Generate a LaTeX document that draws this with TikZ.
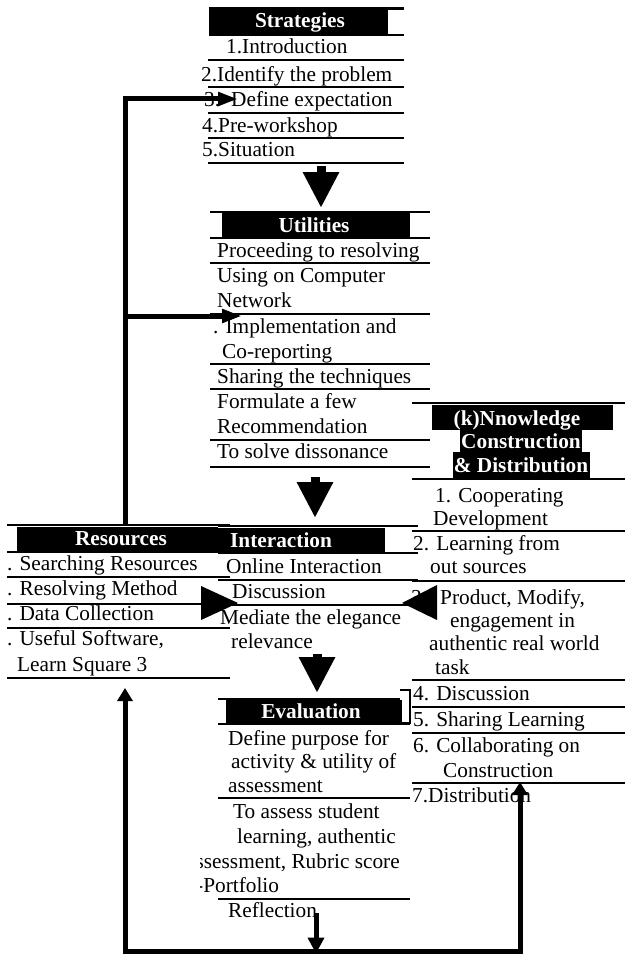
\documentclass[tikz,border=0pt]{standalone}
\usepackage{fontspec}
\setmainfont{Liberation Serif}
\usetikzlibrary{arrows.meta}
\begin{document}
\begin{tikzpicture}[x=1pt,y=-1pt,
  txt/.style={anchor=base west, inner sep=0pt, font=\fontsize{21.3}{24}\selectfont},
  hd/.style={anchor=base, inner sep=0pt, text=white, font=\fontsize{21.3}{24}\selectfont\bfseries},
  rule/.style={line width=2.2pt},
  link/.style={line width=5pt, -{Triangle[length=20pt,width=13pt]}},
  uplink/.style={line width=5pt, -{Triangle[length=13pt,width=15pt]}},
  downlink/.style={line width=5pt, -{Triangle[length=16pt,width=16pt]}},
  bigdown/.style={line width=9pt, -{Triangle[length=36pt,width=34pt]}}]
\useasboundingbox (0,0) rectangle (627,955);

% ---------- Strategies ----------
\fill (209,8) rectangle (388,35);
\draw[line width=3pt] (209,9) -- (404,9);
\draw[rule] (209,35) -- (404,35);
\node[hd] (stratH) at (300,28) {Strategies};
\node[txt] (s1) at (226,54) {1.Introduction};
\draw[rule] (208,60) -- (404,60);
\node[txt] (s2) at (201,82) {2.Identify the problem};
\draw[rule] (208,87) -- (404,87);
\node[txt] (s3) at (204,107) {3.\hspace{11pt}Define expectation};
\draw[rule] (208,113) -- (404,113);
\node[txt] (s4) at (202,132) {4.Pre-workshop};
\draw[rule] (208,138) -- (404,138);
\node[txt] (s5) at (202,157) {5.Situation};
\draw[rule] (208,163) -- (404,163);

% ---------- Utilities ----------
\fill (222,213) rectangle (410,237);
\draw[rule] (210,212) -- (430,212);
\draw[rule] (210,238) -- (430,238);
\node[hd] (utilH) at (314,232) {Utilities};
\node[txt] (u1) at (217,257) {Proceeding to resolving};
\draw[rule] (210,263) -- (430,263);
\node[txt] (u2a) at (217,282) {Using on Computer};
\node[txt] (u2b) at (217,307) {Network};
\draw[rule] (210,314) -- (430,314);
\node[txt] (u3a) at (213,333) {. Implementation and};
\node[txt] (u3b) at (222,358) {Co-reporting};
\draw[rule] (210,364) -- (430,364);
\node[txt] (u4) at (217,383) {Sharing the techniques};
\draw[rule] (210,389) -- (430,389);
\node[txt] (u5a) at (217,408) {Formulate a few};
\node[txt] (u5b) at (217,433) {Recommendation};
\draw[rule] (210,440) -- (430,440);
\node[txt] (u6) at (217,458) {To solve dissonance};
\draw[rule] (210,467) -- (430,467);

% ---------- Knowledge Construction & Distribution ----------
\draw[rule] (412,403) -- (625,403);
\fill (432,405) rectangle (613,430);
\fill (460,430) rectangle (582,452);
\fill (453,452) rectangle (590,478);
\node[hd] (kH1) at (517,425) {(k)Nnowledge};
\node[hd] (kH2) at (521,448) {Construction};
\node[hd] (kH3) at (521,472) {\& Distribution};
\draw[rule] (412,479) -- (625,479);
\node[txt] (k1a) at (435,502) {1. Cooperating};
\node[txt] (k1b) at (433,525) {Development};
\draw[rule] (412,531) -- (625,531);
\node[txt] (k2a) at (413,550) {2. Learning from};
\node[txt] (k2b) at (430,573) {out sources};
\draw[rule] (412,581) -- (625,581);
\node[txt] (k3a) at (411,604) {3.\hspace{13pt}Product, Modify,};
\node[txt] (k3b) at (450,627) {engagement in};
\node[txt] (k3c) at (429,650) {authentic real world};
\node[txt] (k3d) at (435,674) {task};
\draw[rule] (412,680) -- (625,680);
\node[txt] (k4) at (413,700) {4. Discussion};
\draw[rule] (412,707) -- (625,707);
\node[txt] (k5) at (413,726) {5. Sharing Learning};
\draw[rule] (412,733) -- (625,733);
\node[txt] (k6a) at (413,752) {6. Collaborating on};
\node[txt] (k6b) at (443,777) {Construction};
\draw[rule] (412,783) -- (625,783);
\node[txt] (k7) at (412,802) {7.Distribution};

% ---------- Resources ----------
\draw[rule] (7,525) -- (230,525);
\fill (17,527) rectangle (218,552);
\node[hd] (resH) at (121,545) {Resources};
\draw[rule] (7,552) -- (218,552);
\node[txt] (r1) at (7,570) {. Searching Resources};
\draw[rule] (7,577) -- (230,577);
\node[txt] (r2) at (7,595) {. Resolving Method};
\draw[rule] (7,604) -- (237,604);
\node[txt] (r3) at (7,620) {. Data Collection};
\draw[rule] (7,628) -- (230,628);
\node[txt] (r4a) at (7,645) {. Useful Software,};
\node[txt] (r4b) at (17,671) {Learn Square 3};
\draw[rule] (7,678) -- (230,678);

% ---------- Interaction ----------
\draw[rule] (218,526) -- (418,526);
\fill (218,528) rectangle (385,553);
\node[hd, anchor=base west] (intH) at (230,547) {Interaction};
\draw[rule] (218,553) -- (418,553);
\node[txt] (i1) at (226,573) {Online Interaction};
\draw[rule] (218,580) -- (418,580);
\node[txt] (i2) at (232,598) {Discussion};
\draw[rule] (218,605) -- (437,605);
\node[txt] (i3a) at (220,624) {Mediate the elegance};
\node[txt] (i3b) at (231,648) {relevance};

% ---------- Evaluation ----------
\draw[rule] (218,699) -- (400,699);
\fill (226,700) rectangle (402,723);
\node[hd] (evalH) at (311,718) {Evaluation};
\draw[rule] (400,690) -- (410,690) -- (410,723) -- (400,723);
\draw[rule] (218,724) -- (410,724);
\node[txt] (e1a) at (228,745) {Define purpose for};
\node[txt] (e1b) at (231,768) {activity \& utility of};
\node[txt] (e1c) at (228,792) {assessment};
\draw[rule] (218,798) -- (410,798);
\node[txt] (e2a) at (233,818) {To assess student};
\node[txt] (e2b) at (237,843) {learning, authentic};
\begin{scope}
  \clip (200,845) rectangle (410,900);
  \node[txt] (e2c) at (186,868) {assessment, Rubric score};
  \node[txt] (e2d) at (196,892) {-Portfolio};
\end{scope}
\draw[rule] (218,899) -- (410,899);
\node[txt] (e3) at (228,917) {Reflection};

% ---------- flow arrows between the boxes ----------
\coordinate (sOut) at (321,166);  \coordinate (uIn) at (321,208);
\coordinate (uOut) at (315,477);  \coordinate (iIn) at (315,518);
\coordinate (iOut) at (317,654);  \coordinate (eIn) at (317,693);
\draw[bigdown] (sOut) -- (uIn);
\draw[bigdown] (uOut) -- (iIn);
\draw[bigdown] (iOut) -- (eIn);

% side wedges pointing into Interaction
\fill (201,586) -- (238,603) -- (201,620) -- cycle;
\fill (437,585) -- (402,603) -- (437,620) -- cycle;

% feedback loop from Resources up to Strategies and Utilities
\coordinate (resTop) at (125,524);
\coordinate (sTip) at (238,99);
\coordinate (branch) at (125,316);
\coordinate (uTip) at (242,316);
\draw[link] (resTop) |- (sTip);
\draw[link] (branch) -- (uTip);

% loop from Reflection back to Resources and Distribution
\coordinate (reflOut) at (316,913);
\coordinate (base) at (316,951);
\coordinate (resBot) at (125,688);
\coordinate (kBot) at (520,782);
\draw[downlink] (reflOut) -- (316,953.5);
\draw[uplink] (base) -| (resBot);
\draw[uplink] (base) -| (kBot);
\end{tikzpicture}
\end{document}
